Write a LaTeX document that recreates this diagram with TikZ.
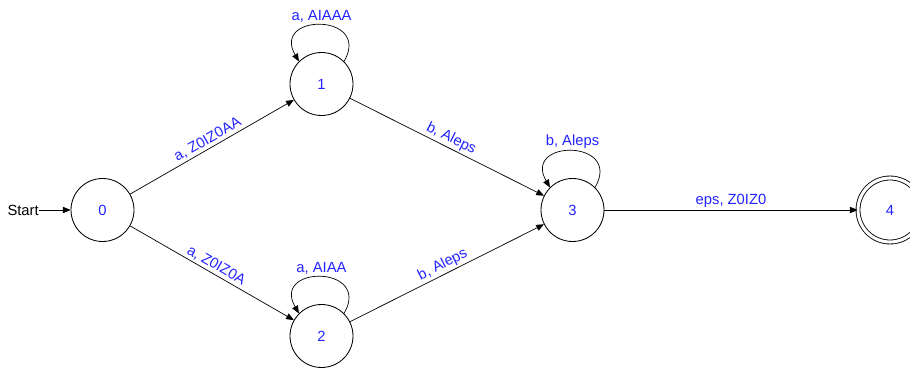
\documentclass[tikz,border=0pt]{standalone}
\usepackage{fontspec}
\setmainfont{Liberation Sans}
\usetikzlibrary{arrows.meta}

\begin{document}
\begin{tikzpicture}[
    font=\fontsize{10.5}{12}\selectfont,
    state/.style={circle, draw, line width=0.6pt, minimum size=1.575cm,
                  inner sep=0pt, text=lblue},
    final/.style={state, double, double distance=2.2pt, minimum size=1.6cm},
    trans/.style={-{Triangle[length=5.5pt,width=4.5pt]}, line width=0.5pt},
    lbl/.style={text=lblue, inner sep=1.5pt}
  ]
  \definecolor{lblue}{RGB}{35,35,255}
  \useasboundingbox (0,0) rectangle (22.75,9.175);
  % Draw states
  \node (q0) [state] at (2.5625,3.925)  {0};
  \node (q1) [state] at (8.0375,7.075)  {1};
  \node (q2) [state] at (8.0375,0.775)  {2};
  \node (q3) [state] at (14.3125,3.925) {3};
  \node (q4) [final] at (22.25,3.925)   {4};
  % Draw start arrow
  \node (start) [inner sep=0pt, anchor=east] at (0.975,3.925) {Start};
  \draw[trans] (start) -- (q0);
  % Draw transitions
  \draw[trans] (q0) -- node[lbl, sloped, above] {a, Z0IZ0AA} (q1);
  \draw[trans] (q0) -- node[lbl, sloped, above] {a, Z0IZ0A} (q2);
  \draw[trans] (q1) -- node[lbl, sloped, above] {b, Aleps} (q3);
  \draw[trans] (q2) -- node[lbl, sloped, above] {b, Aleps} (q3);
  \draw[trans] (q3) -- node[lbl, above] {eps, Z0IZ0} (q4);
  % Draw loops
  \draw[trans] (q1.45) .. controls +(60:1.4) and +(120:1.4) .. (q1.135)
        node[lbl, pos=0.5, above] {a, AIAAA};
  \draw[trans] (q2.45) .. controls +(60:1.4) and +(120:1.4) .. (q2.135)
        node[lbl, pos=0.5, above] {a, AIAA};
  \draw[trans] (q3.45) .. controls +(60:1.4) and +(120:1.4) .. (q3.135)
        node[lbl, pos=0.5, above] {b, Aleps};
\end{tikzpicture}
\end{document}
